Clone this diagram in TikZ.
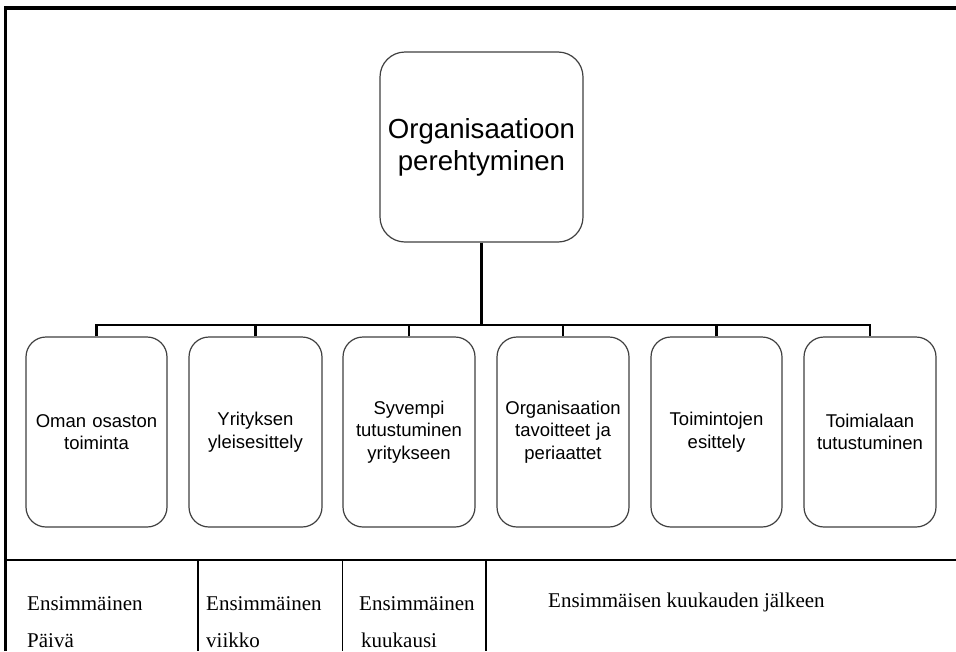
\documentclass[tikz,border=0pt]{standalone}
\usepackage{fontspec}
\setmainfont{Liberation Serif}
\setsansfont{Liberation Sans}
\begin{document}
\begin{tikzpicture}[x=1pt,y=-1pt,
  frame/.style={line width=3.5pt,black},
  grid/.style={line width=1.6pt,black},
  conn/.style={line width=2.6pt,black},
  rootbox/.style={draw=black!75,line width=1.2pt,rounded corners=25pt,
    minimum width=203pt,minimum height=190pt,inner sep=0pt,
    align=center,font=\sffamily\fontsize{27.6}{32}\selectfont},
  leafbox/.style={draw=black!75,line width=1.2pt,rounded corners=20pt,
    minimum height=190pt,inner sep=0pt,text width=128pt,
    align=center,font=\sffamily\fontsize{18.5}{22.5}\selectfont},
  cell/.style={anchor=base west,inner sep=0pt,font=\fontsize{21}{21}\selectfont}]
\useasboundingbox (0,0) rectangle (956,651);
\fill[white] (0,0) rectangle (956,651);

% outer frame: left and top edges
\draw[frame] (5.5,651) -- (5.5,8) -- (956,8);

% root of the hierarchy
\node[rootbox] (root) at (481.5,147) {Organisaatioon\\perehtyminen};

% second level
\node[leafbox,minimum width=141pt] (b1) at (96.5,432) {Oman osaston\\toiminta};
\node[leafbox,minimum width=133pt] (b2) at (255.5,432) {Yrityksen\\yleisesittely};
\node[leafbox,minimum width=132pt] (b3) at (409,432) {Syvempi\\tutustuminen\\yritykseen};
\node[leafbox,minimum width=132pt] (b4) at (563,432) {Organisaation\\tavoitteet ja\\periaattet};
\node[leafbox,minimum width=131pt] (b5) at (716.5,432) {Toimintojen\\esittely};
\node[leafbox,minimum width=132pt] (b6) at (870,432) {Toimialaan\\tutustuminen};

% connectors
\coordinate (bus) at (0,325);
\draw[conn] (root.south) -- (root.south |- bus);
\draw[conn] (b1.north) -- (b1.north |- bus) -- (b6.north |- bus) -- (b6.north);
\foreach \n in {b2,b3,b4,b5}
  \draw[conn] (\n.north) -- (\n.north |- bus);

% time line table
\coordinate (tl) at (5,560);
\coordinate (tr) at (956,560);
\draw[grid] (tl) -- (tr);
\foreach \x in {198,342.5,486}
  \draw[grid] (\x,560) -- (\x,651);

\node[cell] (c1a) at (27,610) {Ensimmäinen};
\node[cell] (c1b) at (27,647) {Päivä};
\node[cell] (c2a) at (206,610) {Ensimmäinen};
\node[cell] (c2b) at (206,647) {viikko};
\node[cell] (c3a) at (359,610) {Ensimmäinen};
\node[cell] (c3b) at (361,647) {kuukausi};
\node[cell] (c4a) at (548,607) {Ensimmäisen kuukauden jälkeen};
\end{tikzpicture}
\end{document}
